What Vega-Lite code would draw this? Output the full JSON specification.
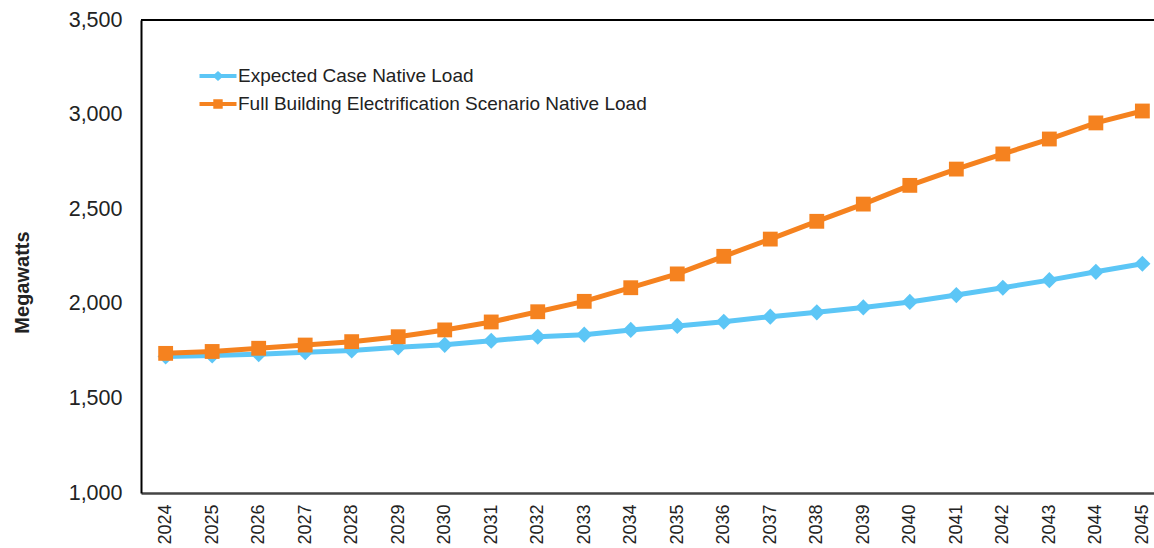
{
  "$schema": "https://vega.github.io/schema/vega-lite/v6.json",
  "autosize": "none",
  "padding": {"left": 141, "top": 20, "right": 0, "bottom": 55},
  "width": 1013,
  "height": 473,
  "background": "white",
  "config": {
    "font": "Liberation Sans",
    "view": {"stroke": null},
    "axis": {"grid": false, "ticks": false, "labelColor": "#222", "titleColor": "#222"}
  },
  "data": {
    "values": [
      {"year": 2024, "series": "Expected Case Native Load", "mw": 1722},
      {"year": 2025, "series": "Expected Case Native Load", "mw": 1727},
      {"year": 2026, "series": "Expected Case Native Load", "mw": 1734},
      {"year": 2027, "series": "Expected Case Native Load", "mw": 1744},
      {"year": 2028, "series": "Expected Case Native Load", "mw": 1753},
      {"year": 2029, "series": "Expected Case Native Load", "mw": 1770},
      {"year": 2030, "series": "Expected Case Native Load", "mw": 1783},
      {"year": 2031, "series": "Expected Case Native Load", "mw": 1805},
      {"year": 2032, "series": "Expected Case Native Load", "mw": 1826},
      {"year": 2033, "series": "Expected Case Native Load", "mw": 1837},
      {"year": 2034, "series": "Expected Case Native Load", "mw": 1862},
      {"year": 2035, "series": "Expected Case Native Load", "mw": 1883},
      {"year": 2036, "series": "Expected Case Native Load", "mw": 1905},
      {"year": 2037, "series": "Expected Case Native Load", "mw": 1932},
      {"year": 2038, "series": "Expected Case Native Load", "mw": 1955},
      {"year": 2039, "series": "Expected Case Native Load", "mw": 1981},
      {"year": 2040, "series": "Expected Case Native Load", "mw": 2010},
      {"year": 2041, "series": "Expected Case Native Load", "mw": 2046},
      {"year": 2042, "series": "Expected Case Native Load", "mw": 2085},
      {"year": 2043, "series": "Expected Case Native Load", "mw": 2125},
      {"year": 2044, "series": "Expected Case Native Load", "mw": 2169},
      {"year": 2045, "series": "Expected Case Native Load", "mw": 2212},
      {"year": 2024, "series": "Full Building Electrification Scenario Native Load", "mw": 1738},
      {"year": 2025, "series": "Full Building Electrification Scenario Native Load", "mw": 1748},
      {"year": 2026, "series": "Full Building Electrification Scenario Native Load", "mw": 1765},
      {"year": 2027, "series": "Full Building Electrification Scenario Native Load", "mw": 1782},
      {"year": 2028, "series": "Full Building Electrification Scenario Native Load", "mw": 1800},
      {"year": 2029, "series": "Full Building Electrification Scenario Native Load", "mw": 1826},
      {"year": 2030, "series": "Full Building Electrification Scenario Native Load", "mw": 1862},
      {"year": 2031, "series": "Full Building Electrification Scenario Native Load", "mw": 1904},
      {"year": 2032, "series": "Full Building Electrification Scenario Native Load", "mw": 1958},
      {"year": 2033, "series": "Full Building Electrification Scenario Native Load", "mw": 2013},
      {"year": 2034, "series": "Full Building Electrification Scenario Native Load", "mw": 2085},
      {"year": 2035, "series": "Full Building Electrification Scenario Native Load", "mw": 2158},
      {"year": 2036, "series": "Full Building Electrification Scenario Native Load", "mw": 2251},
      {"year": 2037, "series": "Full Building Electrification Scenario Native Load", "mw": 2342},
      {"year": 2038, "series": "Full Building Electrification Scenario Native Load", "mw": 2436},
      {"year": 2039, "series": "Full Building Electrification Scenario Native Load", "mw": 2527},
      {"year": 2040, "series": "Full Building Electrification Scenario Native Load", "mw": 2626},
      {"year": 2041, "series": "Full Building Electrification Scenario Native Load", "mw": 2712},
      {"year": 2042, "series": "Full Building Electrification Scenario Native Load", "mw": 2792},
      {"year": 2043, "series": "Full Building Electrification Scenario Native Load", "mw": 2871},
      {"year": 2044, "series": "Full Building Electrification Scenario Native Load", "mw": 2956},
      {"year": 2045, "series": "Full Building Electrification Scenario Native Load", "mw": 3019}
    ]
  },
  "encoding": {
    "y": {
      "field": "mw", "type": "quantitative",
      "scale": {"domain": [1000, 3500], "nice": false, "zero": false},
      "axis": {
        "title": "Megawatts", "titleFontSize": 20, "titleFontWeight": "bold",
        "titleX": -109, "titleY": 262, "titleAngle": -90,
        "values": [1000, 1500, 2000, 2500, 3000, 3500], "format": ",.0f",
        "labelFontSize": 21.5, "labelPadding": 19,
        "domainColor": "#000", "domainWidth": 2
      }
    },
    "color": {
      "field": "series", "type": "nominal",
      "scale": {"domain": ["Expected Case Native Load", "Full Building Electrification Scenario Native Load"], "range": ["#5CC6F6", "#F5821F"]},
      "legend": {
        "title": null, "orient": "none", "legendX": 67, "legendY": 46,
        "labelFontSize": 19, "labelColor": "#222", "labelOffset": 10, "labelLimit": 0,
        "symbolSize": 400, "symbolStrokeWidth": 0, "rowPadding": 8, "symbolOpacity": 1,
        "encode": {
          "symbols": {
            "update": {
              "shape": {"signal": "datum.value == 'Expected Case Native Load' ? 'M-1.85,-0.2H1.85V0.2H-1.85Z M0,-0.5L0.55,0L0,0.5L-0.55,0Z' : 'M-1.85,-0.2H1.85V0.2H-1.85Z M-0.47,-0.47H0.47V0.47H-0.47Z'"}
            }
          }
        }
      }
    }
  },
  "layer": [
    {
      "mark": {"type": "rule", "color": "#000", "strokeWidth": 1.5},
      "encoding": {"y": {"datum": 3500}, "color": {"value": "#000"}}
    },
    {
      "transform": [{"filter": "datum.series == 'Expected Case Native Load'"}],
      "mark": {"type": "line", "strokeWidth": 5},
      "encoding": {
        "x": {
          "field": "year", "type": "quantitative",
          "scale": {"domain": [2023.47, 2045.25], "nice": false, "zero": false},
          "axis": {
            "title": null,
            "values": [2024,2025,2026,2027,2028,2029,2030,2031,2032,2033,2034,2035,2036,2037,2038,2039,2040,2041,2042,2043,2044,2045],
            "format": "d", "labelAngle": -90, "labelFontSize": 18, "labelPadding": 11,
            "domainColor": "#444", "domainWidth": 2.5, "labelBaseline": "middle", "labelAlign": "right"
          }
        }
      }
    },
    {
      "transform": [{"filter": "datum.series == 'Expected Case Native Load'"}],
      "mark": {"type": "point", "filled": true, "opacity": 1, "shape": "diamond", "size": 260, "strokeWidth": 0},
      "encoding": {"x": {"field": "year", "type": "quantitative"}}
    },
    {
      "transform": [{"filter": "datum.series != 'Expected Case Native Load'"}],
      "mark": {"type": "line", "strokeWidth": 5},
      "encoding": {"x": {"field": "year", "type": "quantitative"}}
    },
    {
      "transform": [{"filter": "datum.series != 'Expected Case Native Load'"}],
      "mark": {"type": "point", "filled": true, "opacity": 1, "shape": "square", "size": 220, "strokeWidth": 0},
      "encoding": {"x": {"field": "year", "type": "quantitative"}}
    }
  ]
}
